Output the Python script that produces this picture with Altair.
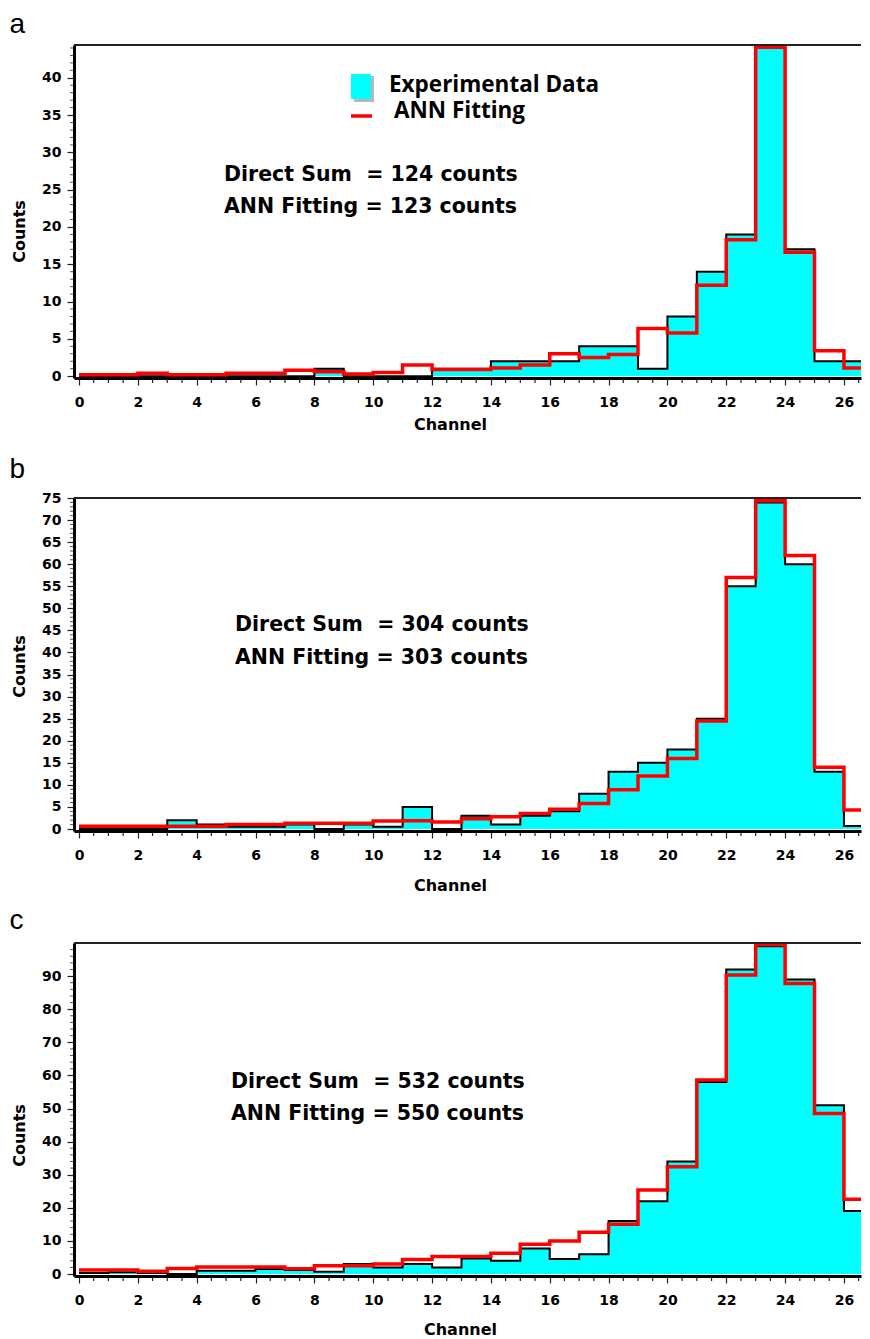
import altair as alt
import pandas as pd

# ---------------- data ----------------
channels = list(range(27))          # bin starts (channel numbers)
channel_end = 27                    # right edge of the last bin

exp_a = [0, 0, 0, 0, 0, 0, 0, 0, 1, 0, 0, 0, 1, 1, 2, 2, 2, 4, 4, 1, 8, 14, 19, 44, 17, 2, 2]
ann_a = [0.2, 0.2, 0.4, 0.2, 0.2, 0.4, 0.4, 0.8, 0.6, 0.3, 0.5, 1.5, 0.9, 0.9, 1.1, 1.5,
         3.0, 2.5, 2.9, 6.4, 5.8, 12.2, 18.3, 44.1, 16.6, 3.4, 1.1]

exp_b = [0, 0, 0, 2, 1, 0.5, 0.5, 1, 0, 1, 0.5, 5, 0, 3, 1, 3, 4, 8, 13, 15, 18, 25, 55, 74, 60, 13, 0.7]
ann_b = [0.6, 0.6, 0.6, 0.6, 0.6, 1.0, 1.0, 1.3, 1.3, 1.3, 1.8, 1.9, 1.6, 2.3, 2.8, 3.5,
         4.5, 5.8, 8.9, 12, 16, 24.5, 57, 74.4, 62, 14, 4.3]

exp_c = [0.3, 0.5, 0.3, 0, 1, 1, 1.5, 1.2, 0.7, 3, 2, 3, 2, 4.7, 4, 7.7, 4.5, 6, 16, 22, 34,
         58, 92, 99, 89, 51, 19]
ann_c = [1.2, 1.2, 0.8, 1.7, 2.1, 2.1, 2.1, 1.6, 2.5, 2.5, 3.0, 4.4, 5.3, 5.3, 6.3, 9, 10,
         12.6, 15, 25.4, 32.4, 58.6, 90.3, 99.5, 87.8, 48.5, 22.6]

x_major_ticks = list(range(0, 27, 2))
y_major_a = list(range(0, 41, 5))
y_major_b = list(range(0, 76, 5))
y_major_c = list(range(0, 91, 10))
notes_a = ["Direct Sum\u00a0\u00a0= 124 counts", "ANN Fitting = 123 counts"]
notes_b = ["Direct Sum\u00a0\u00a0= 304 counts", "ANN Fitting = 303 counts"]
notes_c = ["Direct Sum\u00a0\u00a0= 532 counts", "ANN Fitting = 550 counts"]
legend_labels = ["Experimental Data", "ANN Fitting"]
panel_letters = ["a", "b", "c"]

# ---------------- layout ----------------
W = 787
H = 333
XDOM = [-0.17, 26.58]
CYAN = "#00FFFF"
RED = "#FF0000"
NOTE_FONT = "DejaVu Sans"
LEG_FONT = "Open Sans"
AX_FONT = "DejaVu Sans"

x_minor_ticks = [v / 2 for v in range(0, 2 * channel_end) if v % 4 != 0]


def step_frame(exp, ann):
    xs = channels + [channel_end]
    return pd.DataFrame({
        "Channel": xs,
        "Exp": exp + [exp[-1]],
        "ANN": ann + [ann[-1]],
    })


def text_layer(txt, x, y, size, font):
    return alt.Chart(pd.DataFrame({"t": [txt]})).mark_text(
        align="left", baseline="alphabetic", font=font, fontWeight="bold",
        fontSize=size, color="black"
    ).encode(x=alt.value(x), y=alt.value(y), text="t:N")


def panel(letter, exp, ann, ydom, ymajor, yminor, notes, note_x, note_y,
          legend, xtitle_pad, xtitle_x, ytitle_y, title_offset):
    df = step_frame(exp, ann)
    xaxis = alt.Axis(
        values=x_major_ticks, tickSize=7, labelOverlap=False, labelFlush=False, labelPadding=10,
        title="Channel", titlePadding=xtitle_pad, titleX=xtitle_x,
        domainWidth=3, tickWidth=1.2,
    )
    yaxis = alt.Axis(
        values=ymajor, tickSize=7, labelOverlap=False, labelFlush=False, labelPadding=6,
        title="Counts", titlePadding=14, titleY=ytitle_y,
        domainWidth=3, tickWidth=1.2,
    )
    xs = alt.Scale(domain=XDOM, nice=False, zero=False)
    ys = alt.Scale(domain=ydom, nice=False, zero=False)
    base = alt.Chart(df)
    area = base.mark_area(interpolate="step-after", color=CYAN, clip=True).encode(
        x=alt.X("Channel:Q", scale=xs, axis=xaxis),
        y=alt.Y("Exp:Q", scale=ys, axis=yaxis),
        y2=alt.datum(0),
    )
    exp_line = base.mark_line(interpolate="step-after", color="black", strokeWidth=2, clip=True).encode(
        x=alt.X("Channel:Q", scale=xs, axis=xaxis), y=alt.Y("Exp:Q", scale=ys, axis=yaxis)
    )
    ann_line = base.mark_line(interpolate="step-after", color=RED, strokeWidth=3.5, clip=True).encode(
        x=alt.X("Channel:Q", scale=xs, axis=xaxis), y=alt.Y("ANN:Q", scale=ys, axis=yaxis)
    )
    top = alt.Chart(pd.DataFrame({"k": [0]})).mark_rule(color="#222", strokeWidth=2).encode(
        x=alt.value(0), x2=alt.value(W), y=alt.value(0)
    )
    xminor = alt.Chart(pd.DataFrame({"Channel": x_minor_ticks})).mark_rule(
        color="#222", strokeWidth=1.2).encode(
        x=alt.X("Channel:Q", scale=xs, axis=xaxis), y=alt.value(H + 1), y2=alt.value(H + 5))
    yminor_df = pd.DataFrame({"Exp": [v for v in yminor if v not in ymajor]})
    yminor_r = alt.Chart(yminor_df).mark_rule(color="#555", strokeWidth=1).encode(
        y=alt.Y("Exp:Q", scale=ys, axis=yaxis), x=alt.value(-4), x2=alt.value(-1))
    layers = [area, exp_line, ann_line, top, xminor, yminor_r,
              text_layer(notes[0], note_x, note_y[0], 20.5, NOTE_FONT),
              text_layer(notes[1], note_x, note_y[1], 20.5, NOTE_FONT)]
    if legend:
        one = pd.DataFrame({"k": [0]})
        shadow = alt.Chart(one).mark_rect(color="#888", opacity=0.6).encode(
            x=alt.value(280), x2=alt.value(300), y=alt.value(31), y2=alt.value(57))
        sq = alt.Chart(one).mark_rect(color=CYAN).encode(
            x=alt.value(277), x2=alt.value(297), y=alt.value(29), y2=alt.value(54))
        red = alt.Chart(one).mark_rule(color=RED, strokeWidth=3.5).encode(
            x=alt.value(277), x2=alt.value(298), y=alt.value(71))
        layers += [shadow, sq, red,
                   text_layer(legend_labels[0], 315, 47, 22.5, LEG_FONT),
                   text_layer(legend_labels[1], 320, 73, 22.5, LEG_FONT)]
    return alt.layer(*layers).properties(
        width=W, height=H,
        title=alt.TitleParams(letter, anchor="start", frame="bounds", font="Liberation Sans",
                              fontSize=28, fontWeight="normal", color="black",
                              offset=title_offset, dx=-2),
    )


pa = panel(panel_letters[0], exp_a, ann_a, [-0.25, 44.4], y_major_a, list(range(0, 45)),
           notes_a, 150, [136, 168], True, 7, 376, 186, 5)
pb = panel(panel_letters[1], exp_b, ann_b, [-0.45, 75], y_major_b, list(range(0, 76)),
           notes_b, 161, [133, 166], False, 15, 376, 168, 7)
pc = panel(panel_letters[2], exp_c, ann_c, [-0.6, 100], y_major_c, list(range(0, 99, 2)),
           notes_c, 157, [145, 177], False, 14, 386, 192, 7)

top_pair = alt.vconcat(pa, pb, spacing=24)
chart = alt.vconcat(top_pair, pc, spacing=14).properties(
    padding={"left": 1, "right": 0, "top": 3, "bottom": 0}
).configure_view(stroke=None).configure_axis(
    labelFont=AX_FONT, labelFontWeight="bold", labelFontSize=14, labelColor="black",
    titleFont=AX_FONT, titleFontWeight="bold", titleFontSize=16, titleColor="black",
    grid=False, domainColor="black", tickColor="#222",
)

chart.save("out.html", embed_options={"renderer": "svg", "actions": False})
